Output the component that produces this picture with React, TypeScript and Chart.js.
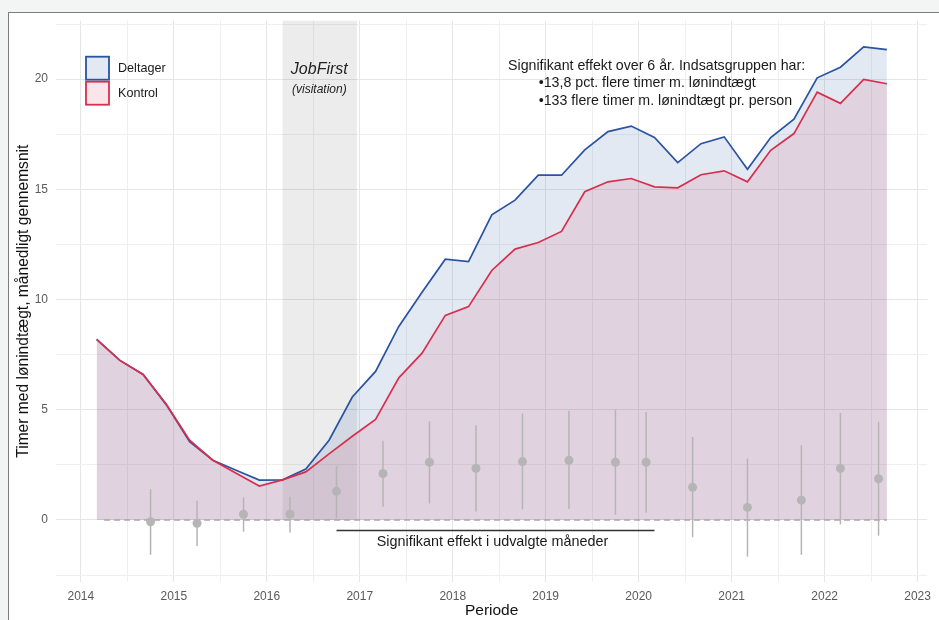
import React, { useEffect, useRef } from 'react';
import { Chart, registerables } from 'chart.js';

Chart.register(...registerables);

const FONT = '"Liberation Sans", Arial, Helvetica, sans-serif';

// Quarterly periods (decimal years)
const quarters = [
  2014.17, 2014.42, 2014.67, 2014.92, 2015.17, 2015.42, 2015.67, 2015.92,
  2016.17, 2016.42, 2016.67, 2016.92, 2017.17, 2017.42, 2017.67, 2017.92,
  2018.17, 2018.42, 2018.67, 2018.92, 2019.17, 2019.42, 2019.67, 2019.92,
  2020.17, 2020.42, 2020.67, 2020.92, 2021.17, 2021.42, 2021.67, 2021.92,
  2022.17, 2022.42, 2022.67,
];

const deltager = [
  8.19, 7.24, 6.6, 5.22, 3.55, 2.71, 2.26, 1.81,
  1.82, 2.31, 3.62, 5.58, 6.74, 8.78, 10.33, 11.83,
  11.72, 13.84, 14.51, 15.64, 15.64, 16.79, 17.62, 17.87,
  17.35, 16.21, 17.07, 17.38, 15.91, 17.35, 18.18, 20.06,
  20.54, 21.46, 21.34,
];

const kontrol = [
  8.19, 7.24, 6.6, 5.25, 3.62, 2.71, 2.12, 1.54,
  1.82, 2.18, 3.0, 3.8, 4.56, 6.45, 7.57, 9.28,
  9.68, 11.32, 12.29, 12.59, 13.09, 14.89, 15.34, 15.49,
  15.11, 15.07, 15.66, 15.84, 15.34, 16.77, 17.53, 19.41,
  18.9, 19.99, 19.79,
];

// Estimated effect with confidence intervals
const effectPeriods = [
  2014.75, 2015.25, 2015.75, 2016.25, 2016.75, 2017.25, 2017.75, 2018.25, 2018.75,
  2019.25, 2019.75, 2020.08, 2020.58, 2021.17, 2021.75, 2022.17, 2022.58,
];
const effectEstimate = [
  -0.08, -0.15, 0.26, 0.26, 1.3, 2.11, 2.62, 2.34, 2.65,
  2.71, 2.62, 2.62, 1.48, 0.57, 0.9, 2.34, 1.87,
];
const effectLow = [
  -1.58, -1.18, -0.53, -0.57, 0.08, 0.6, 0.75, 0.38, 0.48,
  0.5, 0.24, 0.33, -0.78, -1.66, -1.58, -0.2, -0.71,
];
const effectHigh = [
  1.4, 0.87, 1.03, 1.05, 2.44, 3.59, 4.48, 4.3, 4.83,
  4.95, 5.0, 4.9, 3.77, 2.79, 3.39, 4.86, 4.45,
];

const xTickYears = [2014, 2015, 2016, 2017, 2018, 2019, 2020, 2021, 2022, 2023];
const yTickValues = [0, 5, 10, 15, 20];
const seriesLabels = ['Deltager', 'Kontrol'];
const jobFirstPeriod = [2016.17, 2016.97];
const significantPeriod = [2016.75, 2020.17];
const zeroLineRange = [2014.25, 2022.67];
const headline = 'Signifikant effekt over 6 år. Indsatsgruppen har:';
const bullets = ['•13,8 pct. flere timer m. lønindtægt', '•133 flere timer m. lønindtægt pr. person'];
const significantLabel = 'Signifikant effekt i udvalgte måneder';
const xTitle = 'Periode';
const yTitle = 'Timer med lønindtægt, månedligt gennemsnit';

const BLUE = '#2a53a1';
const RED = '#d6304f';
const BLUE_FILL = 'rgba(42,83,161,0.13)';
const RED_FILL = 'rgba(214,48,79,0.12)';
const ERR = '#b5b5b5';

const overlayPlugin = {
  id: 'overlay',
  beforeDatasetsDraw(chart: any) {
    const { ctx, chartArea, scales } = chart;
    const x = scales.x, y = scales.y;
    ctx.save();
    const x0 = x.getPixelForValue(jobFirstPeriod[0]);
    const x1 = x.getPixelForValue(jobFirstPeriod[1]);
    const y0 = y.getPixelForValue(0);
    ctx.fillStyle = 'rgba(0,0,0,0.075)';
    ctx.fillRect(x0, chartArea.top, x1 - x0, y0 - chartArea.top);
    ctx.restore();
  },
  afterDatasetsDraw(chart: any) {
    const { ctx, chartArea, scales } = chart;
    const x = scales.x, y = scales.y;
    ctx.save();
    // error bars
    ctx.strokeStyle = ERR;
    ctx.lineWidth = 1.5;
    effectPeriods.forEach((p, i) => {
      const px = x.getPixelForValue(p);
      ctx.beginPath();
      ctx.moveTo(px, y.getPixelForValue(effectLow[i]));
      ctx.lineTo(px, y.getPixelForValue(effectHigh[i]));
      ctx.stroke();
    });
    // significance segment
    ctx.strokeStyle = '#333333';
    ctx.lineWidth = 1.6;
    const sy = y.getPixelForValue(-0.48);
    ctx.beginPath();
    ctx.moveTo(x.getPixelForValue(significantPeriod[0]), sy);
    ctx.lineTo(x.getPixelForValue(significantPeriod[1]), sy);
    ctx.stroke();
    ctx.fillStyle = '#1a1a1a';
    ctx.font = `14.4px ${FONT}`;
    ctx.textAlign = 'center';
    ctx.textBaseline = 'middle';
    ctx.fillText(significantLabel, (x.getPixelForValue(significantPeriod[0]) + x.getPixelForValue(significantPeriod[1])) / 2 - 3, y.getPixelForValue(-1.01));

    // JobFirst label
    const jx = x.getPixelForValue(2016.565);
    ctx.font = `italic 16px ${FONT}`;
    ctx.fillStyle = '#222222';
    ctx.fillText('JobFirst', jx, y.getPixelForValue(20.45));
    ctx.font = `italic 12px ${FONT}`;
    ctx.fillText('(visitation)', jx, y.getPixelForValue(19.5));

    // headline annotation
    ctx.fillStyle = '#1a1a1a';
    ctx.textAlign = 'left';
    ctx.font = `14.2px ${FONT}`;
    ctx.fillText(headline, x.getPixelForValue(2018.595), y.getPixelForValue(20.6));
    ctx.fillText(bullets[0], x.getPixelForValue(2018.925), y.getPixelForValue(19.8));
    ctx.fillText(bullets[1], x.getPixelForValue(2018.925), y.getPixelForValue(19.0));

    // legend
    const lx = chartArea.left + 30;
    const ly = chartArea.top + 36;
    const items = [
      { label: seriesLabels[0], stroke: BLUE, fill: BLUE_FILL },
      { label: seriesLabels[1], stroke: RED, fill: RED_FILL },
    ];
    items.forEach((it, i) => {
      const top = ly + i * 25;
      ctx.fillStyle = '#ffffff';
      ctx.fillRect(lx, top, 23, 23);
      ctx.fillStyle = it.fill;
      ctx.fillRect(lx, top, 23, 23);
      ctx.strokeStyle = it.stroke;
      ctx.lineWidth = 1.8;
      ctx.strokeRect(lx, top, 23, 23);
      ctx.fillStyle = '#1a1a1a';
      ctx.font = `12.6px ${FONT}`;
      ctx.textAlign = 'left';
      ctx.textBaseline = 'middle';
      ctx.fillText(it.label, lx + 32, top + 12);
    });
    ctx.restore();
  },
};

export default function App() {
  const canvasRef = useRef<HTMLCanvasElement | null>(null);

  useEffect(() => {
    if (!canvasRef.current) return;
    Chart.defaults.font.family = FONT;
    const chart = new Chart(canvasRef.current, {
      type: 'line',
      data: {
        datasets: [
          {
            label: seriesLabels[0],
            data: quarters.map((q, i) => ({ x: q, y: deltager[i] })),
            borderColor: BLUE,
            backgroundColor: BLUE_FILL,
            fill: 'origin',
            borderWidth: 1.7,
            pointRadius: 0,
            tension: 0,
            order: 4,
          },
          {
            label: seriesLabels[1],
            data: quarters.map((q, i) => ({ x: q, y: kontrol[i] })),
            borderColor: RED,
            backgroundColor: RED_FILL,
            fill: 'origin',
            borderWidth: 1.7,
            pointRadius: 0,
            tension: 0,
            order: 3,
          },
          {
            label: 'nul',
            data: zeroLineRange.map((v) => ({ x: v, y: 0 })),
            borderColor: '#a8a8a8',
            borderDash: [6, 4],
            borderWidth: 1.4,
            pointRadius: 0,
            fill: false,
            order: 2,
          },
          {
            label: 'effekt',
            data: effectPeriods.map((p, i) => ({ x: p, y: effectEstimate[i] })),
            showLine: false,
            pointRadius: 4.5,
            pointBackgroundColor: ERR,
            pointBorderWidth: 0,
            borderColor: ERR,
            fill: false,
            order: 1,
          },
        ],
      },
      options: {
        responsive: false,
        maintainAspectRatio: false,
        animation: false,
        devicePixelRatio: 1,
        layout: { padding: { top: 20.7, right: 4, left: 0, bottom: 0 } },
        plugins: {
          legend: { display: false },
          tooltip: { enabled: false },
        },
        scales: {
          x: {
            type: 'linear',
            min: 2013.733,
            max: 2023.104,
            afterBuildTicks: (scale: any) => {
              const ticks: any[] = [];
              xTickYears.forEach((yr, i) => {
                ticks.push({ value: yr });
                if (i < xTickYears.length - 1) ticks.push({ value: yr + 0.5 });
              });
              scale.ticks = ticks;
            },
            afterFit: (scale: any) => {
              scale.height = 38.3;
            },
            border: { display: false },
            grid: {
              drawTicks: false,
              color: (c: any) => (c.tick && c.tick.value % 1 === 0 ? '#e6e6e6' : '#efefef'),
              lineWidth: 1,
            },
            ticks: {
              autoSkip: false,
              maxRotation: 0,
              padding: 8,
              color: '#5a5a5a',
              font: { size: 12, family: FONT },
              callback: (v: any) => (Number(v) % 1 === 0 ? String(v) : ''),
            },
            title: {
              display: true,
              text: xTitle,
              color: '#111111',
              font: { size: 15.5, family: FONT },
              padding: { top: 0, bottom: 0 },
            },
          },
          y: {
            type: 'linear',
            min: -2.8,
            max: 22.65,
            afterBuildTicks: (scale: any) => {
              const ticks: any[] = [{ value: -2.5 }];
              yTickValues.forEach((v) => {
                ticks.push({ value: v });
                ticks.push({ value: v + 2.5 });
              });
              scale.ticks = ticks;
            },
            afterFit: (scale: any) => {
              scale.width = 56;
            },
            border: { display: false },
            grid: {
              drawTicks: false,
              color: (c: any) => (c.tick && c.tick.value % 5 === 0 ? '#e6e6e6' : '#efefef'),
              lineWidth: 1,
            },
            ticks: {
              padding: 8,
              color: '#5a5a5a',
              font: { size: 12, family: FONT },
              callback: (v: any) => (yTickValues.includes(Number(v)) ? String(v) : ''),
            },
            title: {
              display: true,
              text: yTitle,
              color: '#111111',
              font: { size: 15.6, family: FONT },
              padding: { top: 14, bottom: 0 },
            },
          },
        },
      },
      plugins: [overlayPlugin],
    } as any);
    return () => chart.destroy();
  }, []);

  return (
    <div style={{ position: 'absolute', left: 0, top: 0, width: 939, height: 620, background: '#f3f4f4', overflow: 'hidden' }}>
      <div
        style={{
          position: 'absolute',
          left: 8,
          top: 12,
          width: 940,
          height: 620,
          background: '#ffffff',
          borderTop: '1px solid #7d7d7d',
          borderLeft: '1px solid #7d7d7d',
        }}
      />
      <canvas ref={canvasRef} width={939} height={620} style={{ position: 'absolute', left: 0, top: 0, width: 939, height: 620 }} />
    </div>
  );
}
